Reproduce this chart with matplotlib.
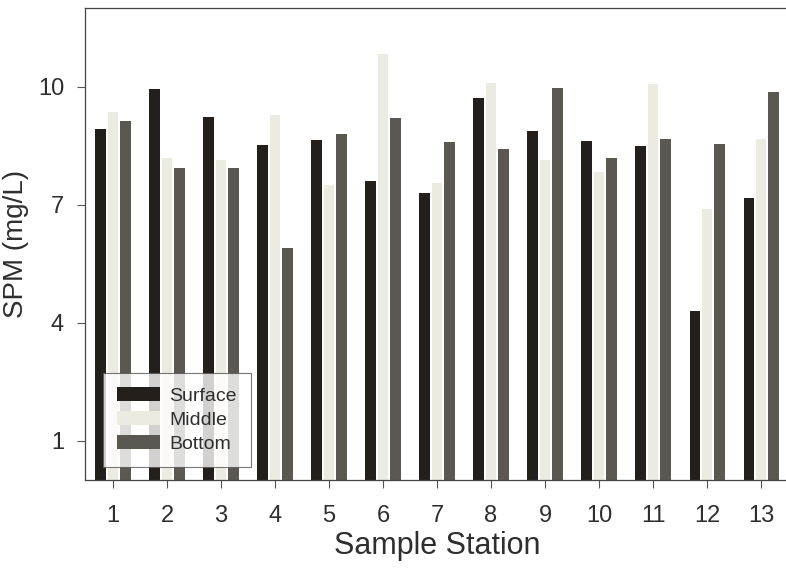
import matplotlib
matplotlib.use('Agg')
import matplotlib.pyplot as plt
import numpy as np

plt.rcParams['font.family'] = ['Liberation Sans', 'DejaVu Sans']

# SPM per station
stations = ['1', '2', '3', '4', '5', '6', '7', '8', '9', '10', '11', '12', '13']
surface = [8.93, 9.95, 9.23, 8.53, 8.65, 7.60, 7.31, 9.72, 8.87, 8.61, 8.50, 4.31, 7.18]
middle = [9.37, 8.19, 8.15, 9.27, 7.49, 10.84, 7.56, 10.09, 8.15, 7.84, 10.07, 6.90, 8.68]
bottom = [9.14, 7.93, 7.93, 5.91, 8.80, 9.20, 8.59, 8.41, 9.97, 8.20, 8.66, 8.55, 9.86]
yticks = [1, 4, 7, 10]

txt = '#2e2e2e'
x = np.arange(1, len(stations) + 1)
w = 0.19
off = 0.23

fig = plt.figure(figsize=(7.86, 5.73), dpi=100)
ax = fig.add_axes([0.108, 0.162, 0.896, 0.824])

ax.bar(x - off, surface, w, color='#241f1b', label='Surface')
ax.bar(x, middle, w, color='#ecebe2', label='Middle')
ax.bar(x + off, bottom, w, color='#5b5852', label='Bottom')

ax.set_xlim(0.48, 13.52)
ax.set_ylim(0, 12)
ax.set_xticks(x)
ax.set_xticklabels(stations)
ax.set_yticks(yticks)
ax.tick_params(axis='both', direction='out', length=6, width=0.8, color='#555555',
               labelsize=17, labelcolor=txt)
ax.tick_params(axis='x', pad=12)
ax.tick_params(axis='y', pad=9)
for s in ax.spines.values():
    s.set_color('#444444')
    s.set_linewidth(0.9)

ax.set_xlabel('Sample Station', fontsize=22, color=txt, labelpad=3)
ax.set_ylabel('SPM (mg/L)', fontsize=20, color=txt, labelpad=6)

leg = ax.legend(loc='lower left', bbox_to_anchor=(0.0255, 0.0275), borderaxespad=0,
                fontsize=14, frameon=True, fancybox=False, handlelength=2.2,
                handleheight=0.75, labelspacing=0.3, borderpad=0.75, handletextpad=0.45)
leg.get_frame().set_edgecolor('#555555')
leg.get_frame().set_linewidth(0.8)
for t in leg.get_texts():
    t.set_color(txt)

fig.savefig('out.png', dpi=100)
